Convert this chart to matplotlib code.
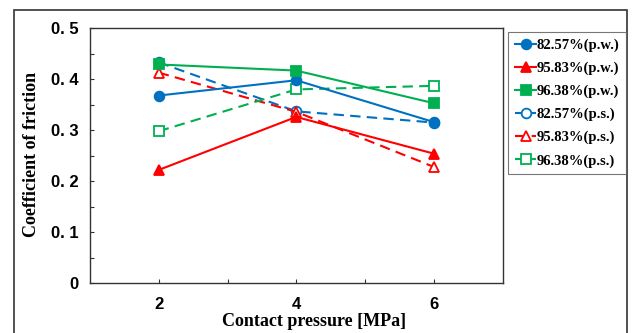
import matplotlib.pyplot as plt
from matplotlib.patches import Rectangle
from matplotlib import font_manager

pressure = [2, 4, 6]
labels = ['82.57%(p.w.)', '95.83%(p.w.)', '96.38%(p.w.)',
          '82.57%(p.s.)', '95.83%(p.s.)', '96.38%(p.s.)']
mu_8257_pw = [0.368, 0.398, 0.316]
mu_9583_pw = [0.222, 0.326, 0.254]
mu_9638_pw = [0.429, 0.417, 0.353]
mu_8257_ps = [0.433, 0.337, 0.315]
mu_9583_ps = [0.413, 0.336, 0.228]
mu_9638_ps = [0.298, 0.380, 0.387]
yticks = [0, 0.1, 0.2, 0.3, 0.4, 0.5]
ytick_labels = ['0', '0. 1', '0. 2', '0. 3', '0. 4', '0. 5']

blue = '#0070c0'
red = '#ff0000'
green = '#00b050'

serif = ['Liberation Serif', 'DejaVu Serif']
names = {f.name for f in font_manager.fontManager.ttflist}
narrow = ['Liberation Sans Narrow'] if 'Liberation Sans Narrow' in names else ['Liberation Sans']

fig = plt.figure(figsize=(6.32, 3.33), dpi=100)
ax = fig.add_axes([90 / 632, 50 / 333, 412.5 / 632, 254.7 / 333])

# outer frame of the original figure
fig.patches.append(Rectangle((14 / 632, -0.1), 613 / 632, 1.1 - 10 / 333,
                             transform=fig.transFigure, fill=False,
                             edgecolor='#333333', linewidth=1.2))

series = [
    (mu_8257_ps, blue, 'o', 'white', '--'),
    (mu_9583_ps, red, '^', 'white', '--'),
    (mu_9638_ps, green, 's', 'white', '--'),
    (mu_8257_pw, blue, 'o', blue, '-'),
    (mu_9583_pw, red, '^', red, '-'),
    (mu_9638_pw, green, 's', green, '-'),
]
handles = []
for vals, c, m, fc, ls in series:
    ms = 6.5 if m == 's' else 7
    h, = ax.plot(pressure, vals, color=c, marker=m, markerfacecolor=fc,
                 markeredgecolor=c, markeredgewidth=1.3, markersize=ms,
                 linestyle=ls, linewidth=1.5, dashes=(5, 3) if ls == '--' else (None, None))
    handles.append(h)
handles = handles[3:] + handles[:3]

ax.set_xlim(1, 7)
ax.set_ylim(0, 0.5)
ax.set_xticks([2, 4, 6])
ax.set_xticks([3, 5], minor=True)
ax.set_yticks(yticks)
ax.set_yticks([0.05, 0.15, 0.25, 0.35, 0.45], minor=True)
ax.set_yticklabels(ytick_labels)
ax.tick_params(which='both', direction='in', length=3, width=0.8, color='#333333')
for lab in ax.get_xticklabels() + ax.get_yticklabels():
    lab.set_family(narrow)
    lab.set_fontweight('bold')
    lab.set_fontsize(12)
ax.tick_params(axis='x', pad=10)
ax.tick_params(axis='y', pad=8)
for s in ax.spines.values():
    s.set_color('#333333')
    s.set_linewidth(1.0)

ax.set_ylabel('Coefficient of friction', family=serif, fontweight='bold',
              fontsize=13)
ax.yaxis.set_label_coords(-0.121, 0.506)
ax.set_xlabel('Contact pressure [MPa]', family=serif, fontweight='bold',
              fontsize=13)
ax.xaxis.set_label_coords(0.543, -0.118)

leg = fig.legend(handles, labels, loc='upper left',
                 bbox_to_anchor=(508 / 632, 1 - 32 / 333),
                 prop={'family': serif, 'weight': 'bold', 'size': 10.5},
                 frameon=True, fancybox=False, edgecolor='#555555',
                 handlelength=1.5, handletextpad=0.0, labelspacing=0.66,
                 borderpad=0.45, borderaxespad=0)
leg.get_frame().set_linewidth(0.8)

fig.savefig('out.png', dpi=100)
